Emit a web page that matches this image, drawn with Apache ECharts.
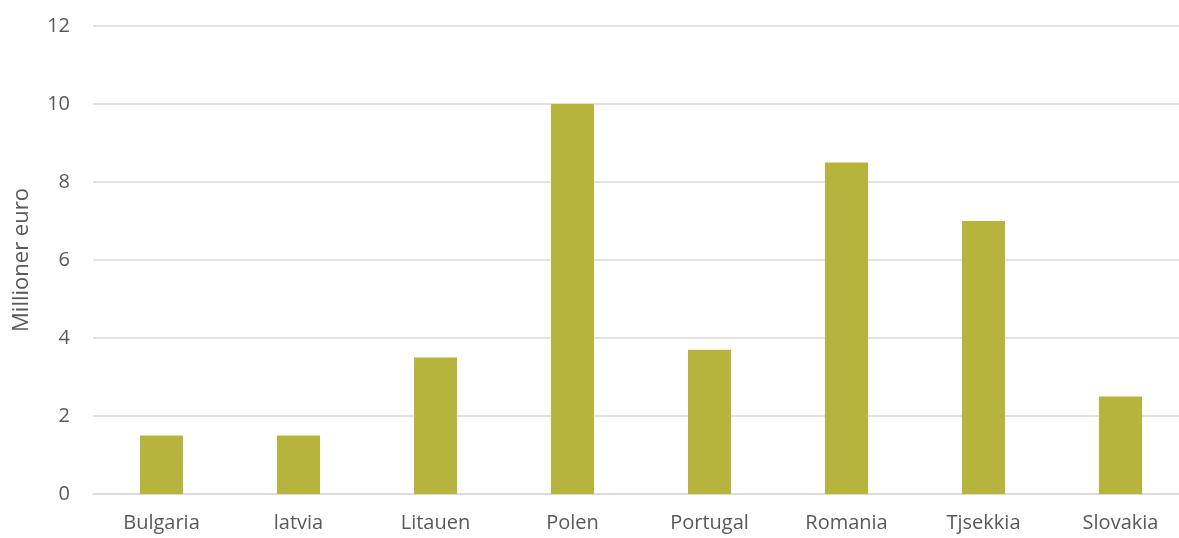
<!DOCTYPE html>
<html><head><meta charset="utf-8">
<script src="https://cdn.jsdelivr.net/npm/echarts@6/dist/echarts.min.js"></script>
<style>html,body{margin:0;padding:0;background:#fff}#c{width:1179px;height:538px}</style>
</head><body><div id="c"></div>
<script>
const categories = ['Bulgaria','latvia','Litauen','Polen','Portugal','Romania','Tjsekkia','Slovakia'];
const values = [1.5, 1.5, 3.5, 10, 3.7, 8.5, 7, 2.5];
const yTicks = [0, 2, 4, 6, 8, 10, 12];
const yTitle = 'Millioner euro';

const chart = echarts.init(document.getElementById('c'), null, {renderer:'canvas'});
const font = '"Open Sans", "Liberation Sans", sans-serif';
chart.setOption({
  animation: false,
  grid: {left: 93, top: 26, width: 1096, height: 468, containLabel: false, outerBoundsMode: 'none'},
  xAxis: {
    type: 'category', data: categories,
    axisLine: {show: true, lineStyle: {color: '#d9d9d9', width: 1.5}},
    axisTick: {show: false},
    axisLabel: {color: '#595959', fontSize: 20, fontFamily: font, margin: 19}
  },
  yAxis: {
    type: 'value', min: yTicks[0], max: yTicks[yTicks.length-1], interval: 2,
    name: yTitle, nameLocation: 'middle', nameGap: 60, nameRotate: 90,
    nameTextStyle: {color: '#595959', fontSize: 22, fontFamily: font},
    axisLine: {show: false}, axisTick: {show: false},
    axisLabel: {color: '#595959', fontSize: 20, fontFamily: font, margin: 23},
    splitLine: {lineStyle: {color: '#d9d9d9', width: 1.5}}
  },
  series: [{
    type: 'bar', data: values, barWidth: '31.4%',
    itemStyle: {color: '#b6b43d'}
  }]
});
</script></body></html>
